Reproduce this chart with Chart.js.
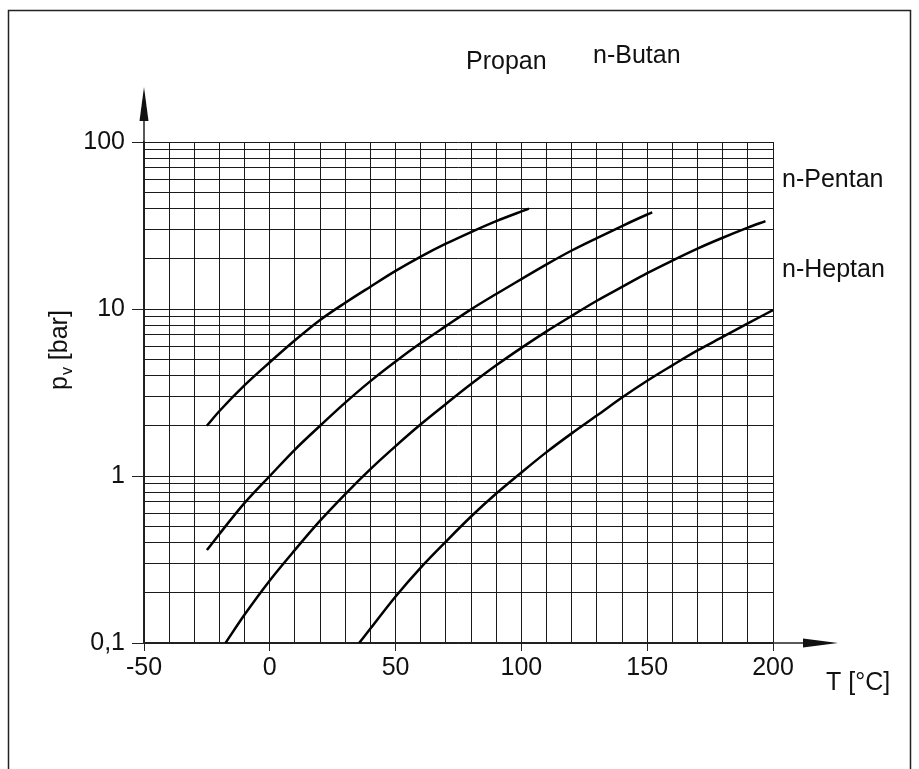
<!DOCTYPE html>
<html>
<head>
<meta charset="utf-8">
<script src="https://cdn.jsdelivr.net/npm/chart.js@4.4.1/dist/chart.umd.min.js"></script>
<style>
  html, body { margin: 0; padding: 0; background: #fff; }
  #wrap { position: relative; width: 919px; height: 769px; }
</style>
</head>
<body>
<div id="wrap"><canvas id="vpChart" width="919" height="769"></canvas></div>
<script>
// Vapour pressure curves (T in °C, p in bar)
const propanT = [-25, -20, -10, 0, 10, 20, 30, 40, 50, 60, 70, 80, 90, 100, 103];
const propanP = [2.0, 2.45, 3.5, 4.8, 6.5, 8.6, 10.9, 13.6, 16.9, 20.6, 24.6, 28.9, 33.6, 38.4, 39.9];

const butanT = [-25, -20, -10, 0, 10, 20, 30, 40, 50, 60, 70, 80, 90, 100, 110, 120, 130, 140, 150, 152];
const butanP = [0.36, 0.45, 0.69, 1.0, 1.44, 2.0, 2.75, 3.7, 4.85, 6.25, 7.9, 9.95, 12.3, 15.1, 18.5, 22.4, 26.6, 31.4, 36.8, 37.9];

const pentanT = [-17.6, -10, 0, 10, 20, 30, 40, 50, 60, 70, 80, 90, 100, 110, 120, 130, 140, 150, 160, 170, 180, 190, 197];
const pentanP = [0.1, 0.148, 0.237, 0.361, 0.54, 0.78, 1.10, 1.51, 2.04, 2.70, 3.55, 4.6, 5.85, 7.35, 9.1, 11.2, 13.55, 16.4, 19.5, 23.0, 26.7, 30.7, 33.6];

const heptanT = [35.5, 40, 50, 60, 70, 80, 90, 100, 110, 120, 130, 140, 150, 160, 170, 180, 190, 200];
const heptanP = [0.1, 0.122, 0.19, 0.283, 0.405, 0.572, 0.785, 1.05, 1.39, 1.80, 2.30, 2.95, 3.72, 4.6, 5.65, 6.8, 8.2, 9.85];

const curveLabels = ['Propan', 'n-Butan', 'n-Pentan', 'n-Heptan'];

// grid / tick setup
const xGridValues = [-50, -40, -30, -20, -10, 0, 10, 20, 30, 40, 50, 60, 70, 80, 90, 100,
                     110, 120, 130, 140, 150, 160, 170, 180, 190, 200];
const xTickLabels = [-50, 0, 50, 100, 150, 200];
const yGridValues = [0.1, 0.2, 0.3, 0.4, 0.5, 0.6, 0.7, 0.8, 0.9,
                     1, 2, 3, 4, 5, 6, 7, 8, 9,
                     10, 20, 30, 40, 50, 60, 70, 80, 90, 100];
const yTickLabels = { 0.1: '0,1', 1: '1', 10: '10', 100: '100' };

const FONT = '"Liberation Sans", Arial, sans-serif';
const INK = '#111';

function toPoints(ts, ps) {
    return ts.map((t, i) => ({ x: t, y: ps[i] }));
}

// frame, axis arrows and free text
const decorations = {
    id: 'decorations',
    afterDraw(chart) {
        const { ctx, chartArea: a } = chart;
        ctx.save();
        ctx.strokeStyle = '#222';
        ctx.fillStyle = INK;
        ctx.lineWidth = 1.5;

        // outer frame (open at the bottom)
        ctx.beginPath();
        ctx.moveTo(8.5, 769);
        ctx.lineTo(8.5, 10.5);
        ctx.lineTo(910.5, 10.5);
        ctx.lineTo(910.5, 769);
        ctx.stroke();

        // y axis arrow
        ctx.beginPath();
        ctx.moveTo(a.left, a.top);
        ctx.lineTo(a.left, 118);
        ctx.stroke();
        ctx.beginPath();
        ctx.moveTo(a.left, 87);
        ctx.lineTo(a.left - 4.5, 121);
        ctx.lineTo(a.left + 4.5, 121);
        ctx.closePath();
        ctx.fill();

        // x axis arrow
        ctx.beginPath();
        ctx.moveTo(a.right, a.bottom);
        ctx.lineTo(806, a.bottom);
        ctx.stroke();
        ctx.beginPath();
        ctx.moveTo(838, a.bottom);
        ctx.lineTo(803, a.bottom - 4.5);
        ctx.lineTo(803, a.bottom + 4.5);
        ctx.closePath();
        ctx.fill();

        // curve names
        ctx.font = `25px ${FONT}`;
        ctx.textAlign = 'left';
        ctx.textBaseline = 'alphabetic';
        const spots = [[466, 69], [593, 63], [782, 187], [782, 277]];
        curveLabels.forEach((name, i) => ctx.fillText(name, spots[i][0], spots[i][1]));

        // x title
        ctx.fillText('T [°C]', 826, 690);

        // y title: p with subscript v, rotated
        ctx.translate(67, 390);
        ctx.rotate(-Math.PI / 2);
        ctx.fillText('p', 0, 0);
        let w = ctx.measureText('p').width + 1;
        ctx.font = `16px ${FONT}`;
        ctx.fillText('v', w, 5);
        w += ctx.measureText('v').width;
        ctx.font = `25px ${FONT}`;
        ctx.fillText(' [bar]', w, 0);

        ctx.restore();
    }
};

const lineStyle = {
    showLine: true,
    borderColor: '#000',
    borderWidth: 2.5,
    pointRadius: 0,
    fill: false,
    cubicInterpolationMode: 'monotone'
};

new Chart(document.getElementById('vpChart'), {
    type: 'scatter',
    data: {
        datasets: [
            { label: curveLabels[0], data: toPoints(propanT, propanP), ...lineStyle },
            { label: curveLabels[1], data: toPoints(butanT, butanP), ...lineStyle },
            { label: curveLabels[2], data: toPoints(pentanT, pentanP), ...lineStyle },
            { label: curveLabels[3], data: toPoints(heptanT, heptanP), ...lineStyle }
        ]
    },
    options: {
        responsive: false,
        animation: false,
        devicePixelRatio: 1,
        layout: { padding: { left: 0, top: 142, right: 146, bottom: 66 } },
        plugins: {
            legend: { display: false },
            tooltip: { enabled: false }
        },
        scales: {
            x: {
                type: 'linear',
                min: -50,
                max: 200,
                afterBuildTicks: s => { s.ticks = xGridValues.map(v => ({ value: v })); },
                afterFit: s => { s.height = 60; },
                ticks: {
                    autoSkip: false,
                    maxRotation: 0,
                    padding: 2,
                    color: INK,
                    font: { family: FONT, size: 25 },
                    callback: v => xTickLabels.includes(v) ? String(v) : ''
                },
                grid: {
                    color: '#1a1a1a',
                    lineWidth: 1,
                    tickLength: 8,
                    tickColor: c => xTickLabels.includes(c.tick.value) ? '#222' : 'rgba(0,0,0,0)'
                },
                border: { color: '#222', width: 1.5 }
            },
            y: {
                type: 'logarithmic',
                min: 0.1,
                max: 100,
                afterBuildTicks: s => { s.ticks = yGridValues.map(v => ({ value: v })); },
                afterFit: s => { s.width = 144; },
                ticks: {
                    autoSkip: false,
                    padding: 7,
                    color: INK,
                    font: { family: FONT, size: 25 },
                    callback: v => yTickLabels[v] || ''
                },
                grid: {
                    color: '#1a1a1a',
                    lineWidth: 1,
                    tickLength: 12,
                    tickColor: c => yTickLabels[c.tick.value] ? '#222' : 'rgba(0,0,0,0)'
                },
                border: { color: '#222', width: 1.5 }
            }
        }
    },
    plugins: [decorations]
});
</script>
</body>
</html>
